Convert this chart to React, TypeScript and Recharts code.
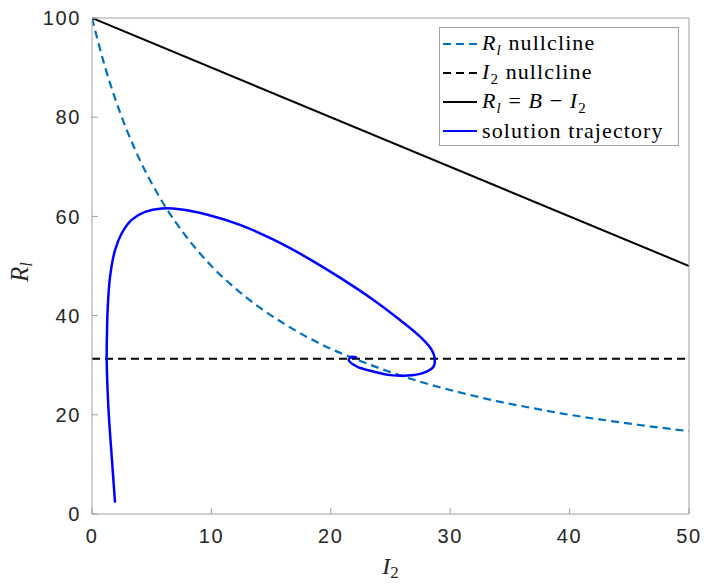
import React from 'react';
import { LineChart, Line, XAxis, YAxis, Legend } from 'recharts';

const xTicks = [0, 10, 20, 30, 40, 50];
const yTicks = [0, 20, 40, 60, 80, 100];

const rlNullclineI2 = [0, 1, 2, 3, 4, 5, 6, 8, 10, 12, 14, 16, 18, 20, 22, 25, 28, 31, 34, 37, 40, 43, 46, 50];
const rlNullclineRl = [100, 90.9, 83.3, 76.9, 71.4, 66.7, 62.5, 55.6, 50, 45.5, 41.7, 38.5, 35.7, 33.3, 31.3, 28.6, 26.3, 24.4, 22.7, 21.3, 20, 18.9, 17.9, 16.7];

const i2NullclineI2 = [0, 50];
const i2NullclineRl = [31.3, 31.3];

const conservationI2 = [0, 50];
const conservationRl = [100, 50];

const trajectoryI2 = [1.93, 1.65, 1.37, 1.23, 1.26, 1.31, 1.51, 1.93, 2.49, 3.32, 4.44, 5.84, 7.5, 9.6, 12.4, 15.2, 18.0, 20.8, 23.6, 25.8, 27.5, 28.45, 28.7, 28.6, 27.7, 26.4, 25.0, 23.6, 22.2, 21.5, 21.75, 22.2];
const trajectoryRl = [2.3, 11.6, 21.6, 31.4, 37.0, 41.1, 47.8, 53.2, 56.6, 59.3, 60.9, 61.6, 61.4, 60.4, 58.3, 55.3, 51.7, 47.6, 43.1, 39.1, 35.7, 33.1, 31.4, 29.7, 28.4, 27.9, 28.0, 28.7, 29.7, 31.0, 31.7, 31.5];

const zip = (xs: number[], ys: number[]) => xs.map((x, i) => ({ x, y: ys[i] }));

// centripetal Catmull-Rom curve factory (d3 curve interface)
const catmullRom = (context: any) => {
  let pts: number[][] = [];
  return {
    areaStart() {},
    areaEnd() {},
    lineStart() { pts = []; },
    point(x: number, y: number) { pts.push([+x, +y]); },
    lineEnd() {
      const n = pts.length;
      if (!n) return;
      context.moveTo(pts[0][0], pts[0][1]);
      const d = (a: number[], b: number[]) => Math.pow(Math.hypot(b[0] - a[0], b[1] - a[1]), 0.5);
      for (let i = 0; i < n - 1; i++) {
        const p1 = pts[i];
        const p2 = pts[i + 1];
        const p0 = i > 0 ? pts[i - 1] : null;
        const p3 = i + 2 < n ? pts[i + 2] : null;
        const t12 = d(p1, p2) || 1e-6;
        const m1 = [p2[0] - p1[0], p2[1] - p1[1]];
        const m2 = [p2[0] - p1[0], p2[1] - p1[1]];
        if (p0) {
          const t01 = d(p0, p1) || 1e-6;
          for (let k = 0; k < 2; k++) {
            m1[k] = (p2[k] - p1[k]) + t12 * ((p1[k] - p0[k]) / t01 - (p2[k] - p0[k]) / (t01 + t12));
          }
        }
        if (p3) {
          const t23 = d(p2, p3) || 1e-6;
          for (let k = 0; k < 2; k++) {
            m2[k] = (p2[k] - p1[k]) + t12 * ((p3[k] - p2[k]) / t23 - (p3[k] - p1[k]) / (t12 + t23));
          }
        }
        context.bezierCurveTo(
          p1[0] + m1[0] / 3, p1[1] + m1[1] / 3,
          p2[0] - m2[0] / 3, p2[1] - m2[1] / 3,
          p2[0], p2[1]
        );
      }
    },
  };
};

const AXIS_COLOR = '#a0a0a0';
const TEXT_COLOR = '#262626';
const tickFont = { fontFamily: 'Liberation Sans', fontSize: 20, fill: TEXT_COLOR, letterSpacing: 1.6 };
const serif = "'Liberation Serif', serif";

const XLabel = (props: any) => {
  const vb = props.viewBox || {};
  const cx = vb.x + vb.width / 2;
  return (
    <text x={cx} y={vb.y + 60} textAnchor="middle" fontFamily={serif} fontSize={24} fill={TEXT_COLOR}>
      <tspan fontStyle="italic">I</tspan>
      <tspan fontSize={17} dy={4}>2</tspan>
    </text>
  );
};

const YLabel = (props: any) => {
  const vb = props.viewBox || {};
  const cy = vb.y + vb.height / 2 + 6;
  return (
    <text transform={`translate(28, ${cy}) rotate(-90)`} x={0} y={0} textAnchor="middle" fontFamily={serif} fontSize={25} fill={TEXT_COLOR}>
      <tspan fontStyle="italic">R</tspan>
      <tspan fontStyle="italic" fontSize={17} dy={4}>l</tspan>
    </text>
  );
};

const legendItems = [
  { key: 'rl', color: '#0072BD', dash: '8 5' },
  { key: 'i2', color: '#000000', dash: '8 5' },
  { key: 'cons', color: '#000000', dash: undefined },
  { key: 'traj', color: '#0000FF', dash: undefined },
];

const legendLabel = (key: string) => {
  const sub = { fontSize: 15, position: 'relative' as const, top: 5 };
  if (key === 'rl')
    return (<span><i>R</i><i style={sub}>l</i> nullcline</span>);
  if (key === 'i2')
    return (<span><i>I</i><span style={sub}>2</span> nullcline</span>);
  if (key === 'cons')
    return (<span><i>R</i><i style={sub}>l</i> = <i>B</i> − <i>I</i><span style={sub}>2</span></span>);
  return <span>solution trajectory</span>;
};

const LegendBox = () => (
  <div
    style={{
      width: 240,
      height: 119,
      border: '1px solid #a0a0a0',
      background: '#fff',
      boxSizing: 'border-box',
      fontFamily: serif,
      fontSize: 22,
      letterSpacing: 1.1,
      color: '#000',
      paddingTop: 1,
    }}
  >
    {legendItems.map((it) => (
      <div key={it.key} style={{ display: 'flex', alignItems: 'center', height: 29, whiteSpace: 'nowrap', lineHeight: '29px' }}>
        <svg width={40} height={10} style={{ marginLeft: 2, marginRight: 0, flex: 'none' }}>
          <line x1={1} y1={5} x2={35} y2={5} stroke={it.color} strokeWidth={2} strokeDasharray={it.dash} />
        </svg>
        {legendLabel(it.key)}
      </div>
    ))}
  </div>
);

export default function App() {
  return (
    <div style={{ position: 'absolute', left: 0, top: 0, background: '#fff' }}>
      <LineChart width={704} height={584} margin={{ top: 17, right: 14, bottom: 0, left: 0 }}>
        <XAxis
          xAxisId="b"
          type="number"
          dataKey="x"
          domain={[0, 50]}
          ticks={xTicks}
          height={70}
          stroke={AXIS_COLOR}
          axisLine={{ stroke: AXIS_COLOR }}
          tickLine={{ stroke: AXIS_COLOR }}
          tickSize={-6}
          tickMargin={21}
          tick={tickFont}
          allowDataOverflow
          label={(p: any) => <XLabel {...p} />}
        />
        <XAxis
          xAxisId="t"
          orientation="top"
          type="number"
          dataKey="x"
          domain={[0, 50]}
          ticks={xTicks}
          height={1}
          stroke={AXIS_COLOR}
          axisLine={{ stroke: AXIS_COLOR }}
          tickLine={{ stroke: AXIS_COLOR }}
          tickSize={-6}
          tick={false}
          allowDataOverflow
        />
        <YAxis
          yAxisId="l"
          type="number"
          domain={[0, 100]}
          ticks={yTicks}
          width={92}
          stroke={AXIS_COLOR}
          axisLine={{ stroke: AXIS_COLOR }}
          tickLine={{ stroke: AXIS_COLOR }}
          tickSize={-6}
          tickMargin={17}
          tick={tickFont}
          allowDataOverflow
          label={(p: any) => <YLabel {...p} />}
        />
        <YAxis
          yAxisId="r"
          orientation="right"
          type="number"
          domain={[0, 100]}
          ticks={yTicks}
          width={1}
          stroke={AXIS_COLOR}
          axisLine={{ stroke: AXIS_COLOR }}
          tickLine={{ stroke: AXIS_COLOR }}
          tickSize={-6}
          tick={false}
          allowDataOverflow
        />
        <Legend
          layout="vertical"
          verticalAlign="middle"
          align="center"
          wrapperStyle={{ position: 'absolute', left: 439, top: 27, right: 'auto', bottom: 'auto', width: 240, margin: 0 }}
          content={() => <LegendBox />}
        />
        <Line xAxisId="b" yAxisId="l" data={zip(rlNullclineI2, rlNullclineRl)} dataKey="y" type="monotone"
          stroke="#0072BD" strokeWidth={2.2} strokeDasharray="8 5" dot={false} isAnimationActive={false} />
        <Line xAxisId="b" yAxisId="l" data={zip(i2NullclineI2, i2NullclineRl)} dataKey="y" type="linear"
          stroke="#000000" strokeWidth={2.2} strokeDasharray="8 5" dot={false} isAnimationActive={false} />
        <Line xAxisId="b" yAxisId="l" data={zip(conservationI2, conservationRl)} dataKey="y" type="linear"
          stroke="#000000" strokeWidth={2} dot={false} isAnimationActive={false} />
        <Line xAxisId="b" yAxisId="l" data={zip(trajectoryI2, trajectoryRl)} dataKey="y" type={catmullRom as any}
          stroke="#0000FF" strokeWidth={2.5} dot={false} isAnimationActive={false} />
      </LineChart>
    </div>
  );
}
